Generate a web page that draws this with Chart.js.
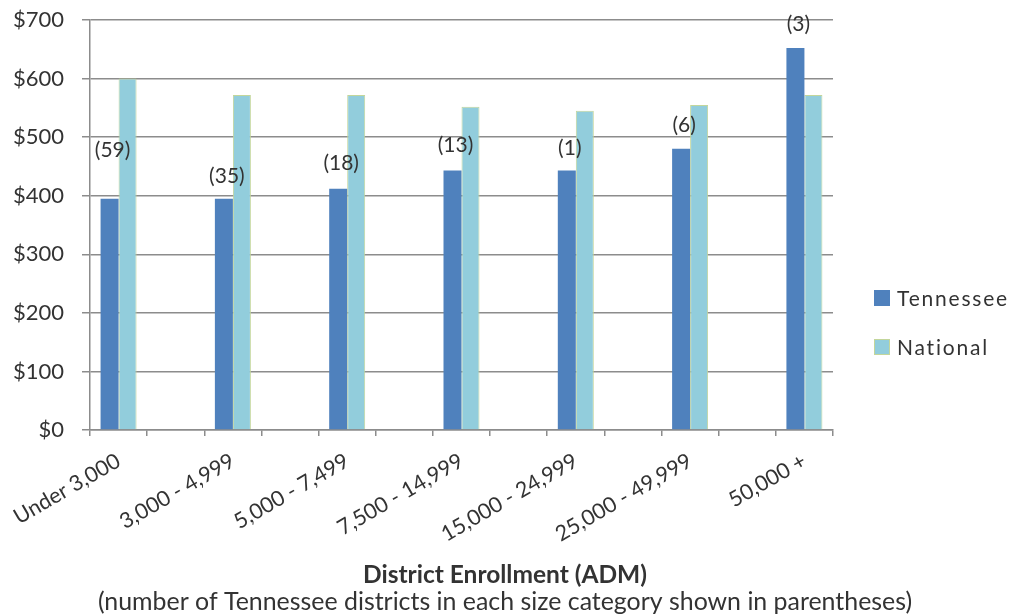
<!DOCTYPE html>
<html>
<head>
<meta charset="utf-8">
<script src="https://cdn.jsdelivr.net/npm/chart.js@4.4.1/dist/chart.umd.min.js"></script>
<style>
  html, body { margin: 0; padding: 0; background: #fff; }
  #wrap { width: 1010px; height: 615px; position: relative; }
</style>
</head>
<body>
<div id="wrap"><canvas id="chart" width="1010" height="615"></canvas></div>
<script>
// District size categories (ADM)
const categories = ['Under 3,000', '3,000 - 4,999', '5,000 - 7,499', '7,500 - 14,999',
                    '15,000 - 24,999', '25,000 - 49,999', '50,000 +'];
// Spending per pupil, dollars
const tennessee = [395, 395, 412, 443, 443, 480, 652];
const national  = [600, 572, 572, 552, 545, 555, 572];
// Number of Tennessee districts in each size category
const districtCounts = [59, 35, 18, 13, 1, 6, 3];
// Y axis ticks
const yTicks = [0, 100, 200, 300, 400, 500, 600, 700];

const TN_COLOR = '#4f81bd';
const NAT_COLOR = '#92cddc';
const NAT_BORDER = '#c3d69b';
const GRID = '#8c8c8c';
const TEXT = '#333333';
const FONT = 'Lato, "Open Sans", sans-serif';

// Each category is followed by an empty slot so the clusters sit apart
const slotLabels = [], tnSlots = [], natSlots = [], countSlots = [];
categories.forEach((c, i) => {
  slotLabels.push(c); tnSlots.push(tennessee[i]); natSlots.push(national[i]); countSlots.push(districtCounts[i]);
  if (i < categories.length - 1) { slotLabels.push(''); tnSlots.push(null); natSlots.push(null); countSlots.push(null); }
});

// Vertical gap between a count label and the top of its bar
const labelLift = [48, 22, 25, 25, 22, 24, 24];

const countLabels = {
  id: 'countLabels',
  afterDatasetsDraw(chart) {
    const meta = chart.getDatasetMeta(0);
    const ctx = chart.ctx;
    ctx.save();
    ctx.font = '21px ' + FONT;
    ctx.fillStyle = TEXT;
    ctx.textAlign = 'center';
    ctx.textBaseline = 'middle';
    let k = 0;
    meta.data.forEach((bar, i) => {
      if (countSlots[i] == null) return;
      ctx.fillText('(' + countSlots[i] + ')', bar.x + 3, bar.y - labelLift[k]);
      k++;
    });
    ctx.restore();
  }
};

const sideLegend = {
  id: 'sideLegend',
  afterDraw(chart) {
    const ctx = chart.ctx;
    const x = chart.chartArea.right + 41;
    const rows = [298, 347];
    ctx.save();
    ctx.font = '21px ' + FONT;
    ctx.textBaseline = 'middle';
    ctx.textAlign = 'left';
    chart.data.datasets.forEach((ds, i) => {
      const y = rows[i];
      ctx.fillStyle = ds.backgroundColor;
      ctx.fillRect(x, y - 8, 16, 16);
      if (ds.borderWidth) {
        ctx.strokeStyle = ds.borderColor;
        ctx.lineWidth = 1;
        ctx.strokeRect(x + 0.5, y - 7.5, 15, 15);
      }
      ctx.fillStyle = TEXT;
      if ('letterSpacing' in ctx) ctx.letterSpacing = '1.8px';
      ctx.fillText(ds.label, x + 23, y + 1);
    });
    ctx.restore();
  }
};

new Chart(document.getElementById('chart'), {
  type: 'bar',
  data: {
    labels: slotLabels,
    datasets: [
      { label: 'Tennessee', data: tnSlots, backgroundColor: TN_COLOR, borderWidth: 0 },
      { label: 'National', data: natSlots, backgroundColor: NAT_COLOR, borderColor: NAT_BORDER, borderWidth: 1 }
    ]
  },
  options: {
    responsive: false,
    animation: false,
    devicePixelRatio: 1,
    layout: { padding: { left: 0, right: 0, top: 20, bottom: 0 } },
    datasets: { bar: { categoryPercentage: 0.63, barPercentage: 1.0, skipNull: false } },
    plugins: {
      legend: { display: false },
      tooltip: { enabled: false },
      subtitle: {
        display: true, position: 'bottom', weight: 1500,
        text: 'District Enrollment (ADM)',
        color: TEXT, font: { family: FONT, size: 24.5, weight: 'bold', lineHeight: 1.143 },
        padding: 0
      },
      title: {
        display: true, position: 'bottom', weight: 2000,
        text: '(number of Tennessee districts in each size category shown in parentheses)',
        color: TEXT, font: { family: FONT, size: 24.9, weight: 'normal', lineHeight: 1.044 },
        padding: 0
      }
    },
    scales: {
      x: {
        grid: { display: true, drawOnChartArea: false, drawTicks: true, tickLength: 6, color: GRID, lineWidth: 1.5, offset: true },
        border: { display: true, color: GRID, width: 1.5 },
        ticks: { autoSkip: false, minRotation: 30, maxRotation: 30, color: TEXT, padding: 12,
                 font: { family: FONT, size: 21.5 } },
        afterFit(scale) { scale.height = 131; scale.paddingLeft = 0; scale.paddingRight = 0; }
      },
      y: {
        min: 0, max: 700,
        afterBuildTicks(scale) { scale.ticks = yTicks.map(v => ({ value: v })); },
        grid: { color: GRID, lineWidth: 1.5, tickLength: 8, drawTicks: true },
        border: { display: true, color: GRID, width: 1.5 },
        ticks: { color: TEXT, padding: 18, font: { family: FONT, size: 22 },
                 callback: v => '$' + v },
        afterFit(scale) { scale.width = 90; scale.paddingTop = 0; scale.paddingBottom = 0; }
      },
      // Empty right-hand band that holds the legend
      legendBand: {
        position: 'right', display: true,
        grid: { display: false, drawTicks: false },
        border: { display: false },
        ticks: { display: false },
        afterFit(scale) { scale.width = 177; scale.paddingTop = 0; scale.paddingBottom = 0; }
      }
    }
  },
  plugins: [countLabels, sideLegend]
});
</script>
</body>
</html>
